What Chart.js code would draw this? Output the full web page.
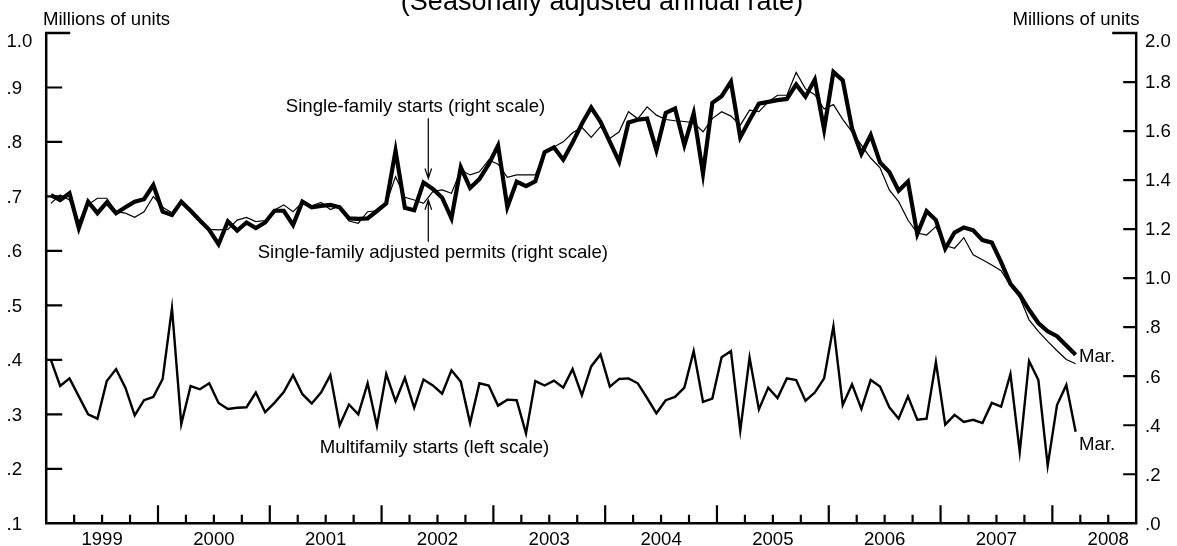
<!DOCTYPE html>
<html><head><meta charset="utf-8">
<script src="https://cdn.jsdelivr.net/npm/chart.js@4"></script>
<style>html,body{margin:0;padding:0;background:#fff;overflow:hidden}#wrap{width:1177px;height:546px;position:relative}</style>
</head><body><div id="wrap"><canvas id="c" width="1177" height="546"></canvas></div>
<script>
// Monthly data, Jan 1999 .. Mar 2008 (millions of units, SAAR)
const singleFamilyStarts = [
  1.339,1.319,1.346,1.204,1.312,1.265,1.309,1.265,1.289,1.312,1.322,1.380,
  1.271,1.258,1.312,1.275,1.235,1.197,1.138,1.231,1.194,1.227,1.204,1.227,
  1.275,1.275,1.217,1.312,1.289,1.295,1.299,1.289,1.244,1.242,1.244,1.274,
  1.305,1.520,1.287,1.277,1.390,1.364,1.328,1.244,1.452,1.368,1.404,1.465,
  1.541,1.290,1.394,1.375,1.395,1.514,1.533,1.483,1.553,1.630,1.696,1.638,
  1.556,1.475,1.635,1.646,1.651,1.522,1.674,1.692,1.543,1.672,1.427,1.715,
  1.742,1.801,1.574,1.645,1.712,1.719,1.726,1.731,1.790,1.740,1.810,1.607,
  1.841,1.807,1.611,1.507,1.584,1.472,1.433,1.357,1.394,1.180,1.273,1.237,
  1.120,1.186,1.207,1.195,1.155,1.145,1.065,0.977,0.932,0.871,0.817,0.783,
  0.763,0.725,0.688
];
const singleFamilyPermits = [
  1.305,1.339,1.319,1.230,1.300,1.326,1.326,1.271,1.265,1.248,1.271,1.333,
  1.289,1.267,1.312,1.278,1.237,1.199,1.197,1.199,1.237,1.248,1.231,1.235,
  1.278,1.299,1.271,1.309,1.295,1.309,1.280,1.295,1.233,1.224,1.271,1.275,
  1.305,1.414,1.330,1.319,1.305,1.353,1.360,1.346,1.441,1.421,1.434,1.482,
  1.465,1.411,1.421,1.421,1.421,1.510,1.535,1.556,1.593,1.615,1.574,1.618,
  1.570,1.597,1.679,1.650,1.699,1.665,1.647,1.642,1.639,1.634,1.597,1.651,
  1.679,1.661,1.624,1.685,1.679,1.719,1.746,1.746,1.839,1.772,1.748,1.690,
  1.708,1.648,1.597,1.543,1.490,1.450,1.360,1.312,1.237,1.184,1.176,1.210,
  1.133,1.122,1.165,1.095,1.075,1.054,1.030,0.970,0.922,0.830,0.783,0.742,
  0.704,0.668,0.651
];
const multifamilyStarts = [
  0.400,0.352,0.366,0.333,0.300,0.292,0.361,0.383,0.349,0.298,0.326,0.332,
  0.365,0.495,0.282,0.352,0.346,0.357,0.321,0.310,0.312,0.313,0.340,0.304,
  0.321,0.341,0.372,0.337,0.320,0.340,0.372,0.280,0.318,0.300,0.357,0.279,
  0.374,0.324,0.367,0.312,0.364,0.353,0.338,0.381,0.360,0.284,0.357,0.353,
  0.316,0.327,0.326,0.265,0.361,0.353,0.362,0.349,0.383,0.335,0.388,0.410,
  0.351,0.365,0.366,0.357,0.330,0.302,0.326,0.332,0.349,0.416,0.323,0.329,
  0.405,0.416,0.270,0.404,0.309,0.349,0.330,0.366,0.363,0.325,0.340,0.366,
  0.462,0.317,0.355,0.310,0.363,0.351,0.313,0.292,0.333,0.290,0.292,0.396,
  0.281,0.299,0.286,0.290,0.284,0.321,0.314,0.374,0.231,0.398,0.363,0.206,
  0.317,0.354,0.268
];
const yearLabels = ['1999','2000','2001','2002','2003','2004','2005','2006','2007','2008'];
const leftTickValues = [1.0,0.9,0.8,0.7,0.6,0.5,0.4,0.3,0.2,0.1];
const leftTickLabels = ['1.0','.9','.8','.7','.6','.5','.4','.3','.2','.1'];
const rightTickValues = [2.0,1.8,1.6,1.4,1.2,1.0,0.8,0.6,0.4,0.2,0.0];
const rightTickLabels = ['2.0','1.8','1.6','1.4','1.2','1.0','.8','.6','.4','.2','.0'];
const axisMonths = 117; // Jan 1999 through Sep 2008

const FONT = "'Liberation Sans', Arial, Helvetica, sans-serif";
const toPoints = arr => arr.map((v, i) => ({x: i + 0.5, y: v}));

const frbPlugin = {
  id: 'frbAxes',
  afterDatasetsDraw(chart) {
    const {ctx, chartArea: a, scales} = chart;
    const xs = scales.x, yl = scales.yL, yr = scales.yR;
    ctx.save();
    ctx.strokeStyle = '#000'; ctx.fillStyle = '#000';
    ctx.lineCap = 'butt'; ctx.lineJoin = 'miter';
    // frame
    ctx.lineWidth = 2.5;
    ctx.beginPath();
    ctx.moveTo(a.left + 24, a.top);
    ctx.lineTo(a.left, a.top);
    ctx.lineTo(a.left, a.bottom);
    ctx.lineTo(a.right, a.bottom);
    ctx.lineTo(a.right, a.top);
    ctx.lineTo(a.right - 24, a.top);
    ctx.stroke();
    // ticks
    ctx.lineWidth = 2.2;
    ctx.beginPath();
    leftTickValues.forEach(v => {
      if (v === yl.max || v === yl.min) return;
      const y = yl.getPixelForValue(v);
      ctx.moveTo(a.left, y); ctx.lineTo(a.left + 16, y);
    });
    rightTickValues.forEach(v => {
      if (v === yr.max || v === yr.min) return;
      const y = yr.getPixelForValue(v);
      ctx.moveTo(a.right, y); ctx.lineTo(a.right - 13, y);
    });
    for (let m = 3; m < axisMonths; m += 3) {
      const x = xs.getPixelForValue(m);
      ctx.moveTo(x, a.bottom); ctx.lineTo(x, a.bottom - (m % 12 === 0 ? 18 : 8.5));
    }
    ctx.stroke();
    // tick labels
    ctx.font = '18.6px ' + FONT;
    ctx.textBaseline = 'alphabetic';
    ctx.textAlign = 'left';
    leftTickValues.forEach((v, i) => {
      const y = yl.getPixelForValue(v);
      ctx.fillText(leftTickLabels[i], 6.5, v === yl.max ? y + 13.7 : y + 6.3);
    });
    rightTickValues.forEach((v, i) => {
      const y = yr.getPixelForValue(v);
      ctx.fillText(rightTickLabels[i], 1145, v === yr.max ? y + 13.7 : y + 6.3);
    });
    ctx.textAlign = 'center';
    yearLabels.forEach((t, i) => {
      ctx.fillText(t, xs.getPixelForValue(6 + 12 * i), a.bottom + 21.7);
    });
    // unit labels
    ctx.textAlign = 'left';
    ctx.fillText('Millions of units', 43, 25);
    ctx.textAlign = 'right';
    ctx.fillText('Millions of units', 1139.5, 25);
    // series labels
    ctx.textAlign = 'center';
    ctx.fillText('Single-family starts (right scale)', 415.5, 111.7);
    ctx.fillText('Single-family adjusted permits (right scale)', 432.8, 258.3);
    ctx.fillText('Multifamily starts (left scale)', 434.5, 452.6);
    ctx.textAlign = 'left';
    ctx.fillText('Mar.', 1079, 361.7);
    ctx.fillText('Mar.', 1079, 450);
    // title
    ctx.font = '27px ' + FONT;
    ctx.textAlign = 'center';
    ctx.fillText('(Seasonally adjusted annual rate)', 602, 10);
    // arrows
    ctx.lineWidth = 1.2;
    ctx.beginPath();
    ctx.moveTo(428.3, 118.3); ctx.lineTo(428.3, 178.3);
    ctx.moveTo(425, 168.5); ctx.lineTo(428.3, 178.3); ctx.lineTo(431.6, 168.5);
    ctx.moveTo(428.3, 241.7); ctx.lineTo(428.3, 200);
    ctx.moveTo(425, 209.8); ctx.lineTo(428.3, 200); ctx.lineTo(431.6, 209.8);
    ctx.stroke();
    ctx.restore();
  }
};

new Chart(document.getElementById('c'), {
  type: 'line',
  data: {
    datasets: [
      {label: 'Single-family adjusted permits', data: toPoints(singleFamilyPermits), yAxisID: 'yR',
       borderColor: '#000', borderWidth: 1.2, pointRadius: 0, tension: 0, borderJoinStyle: 'miter', fill: false},
      {label: 'Single-family starts', data: toPoints(singleFamilyStarts), yAxisID: 'yR',
       borderColor: '#000', borderWidth: 4.2, pointRadius: 0, tension: 0, borderJoinStyle: 'miter', fill: false},
      {label: 'Multifamily starts', data: toPoints(multifamilyStarts), yAxisID: 'yL',
       borderColor: '#000', borderWidth: 2.4, pointRadius: 0, tension: 0, borderJoinStyle: 'miter', fill: false}
    ]
  },
  options: {
    responsive: false, devicePixelRatio: 1, animation: false, events: [],
    layout: {padding: {left: 46.2, right: 40.8, top: 33, bottom: 22.7}},
    plugins: {legend: {display: false}, tooltip: {enabled: false}, title: {display: false}},
    scales: {
      x: {type: 'linear', min: 0, max: axisMonths, display: false},
      yL: {type: 'linear', position: 'left', min: 0.1, max: 1.0, display: false},
      yR: {type: 'linear', position: 'right', min: 0, max: 2.0, display: false}
    }
  },
  plugins: [frbPlugin]
});
</script></body></html>
